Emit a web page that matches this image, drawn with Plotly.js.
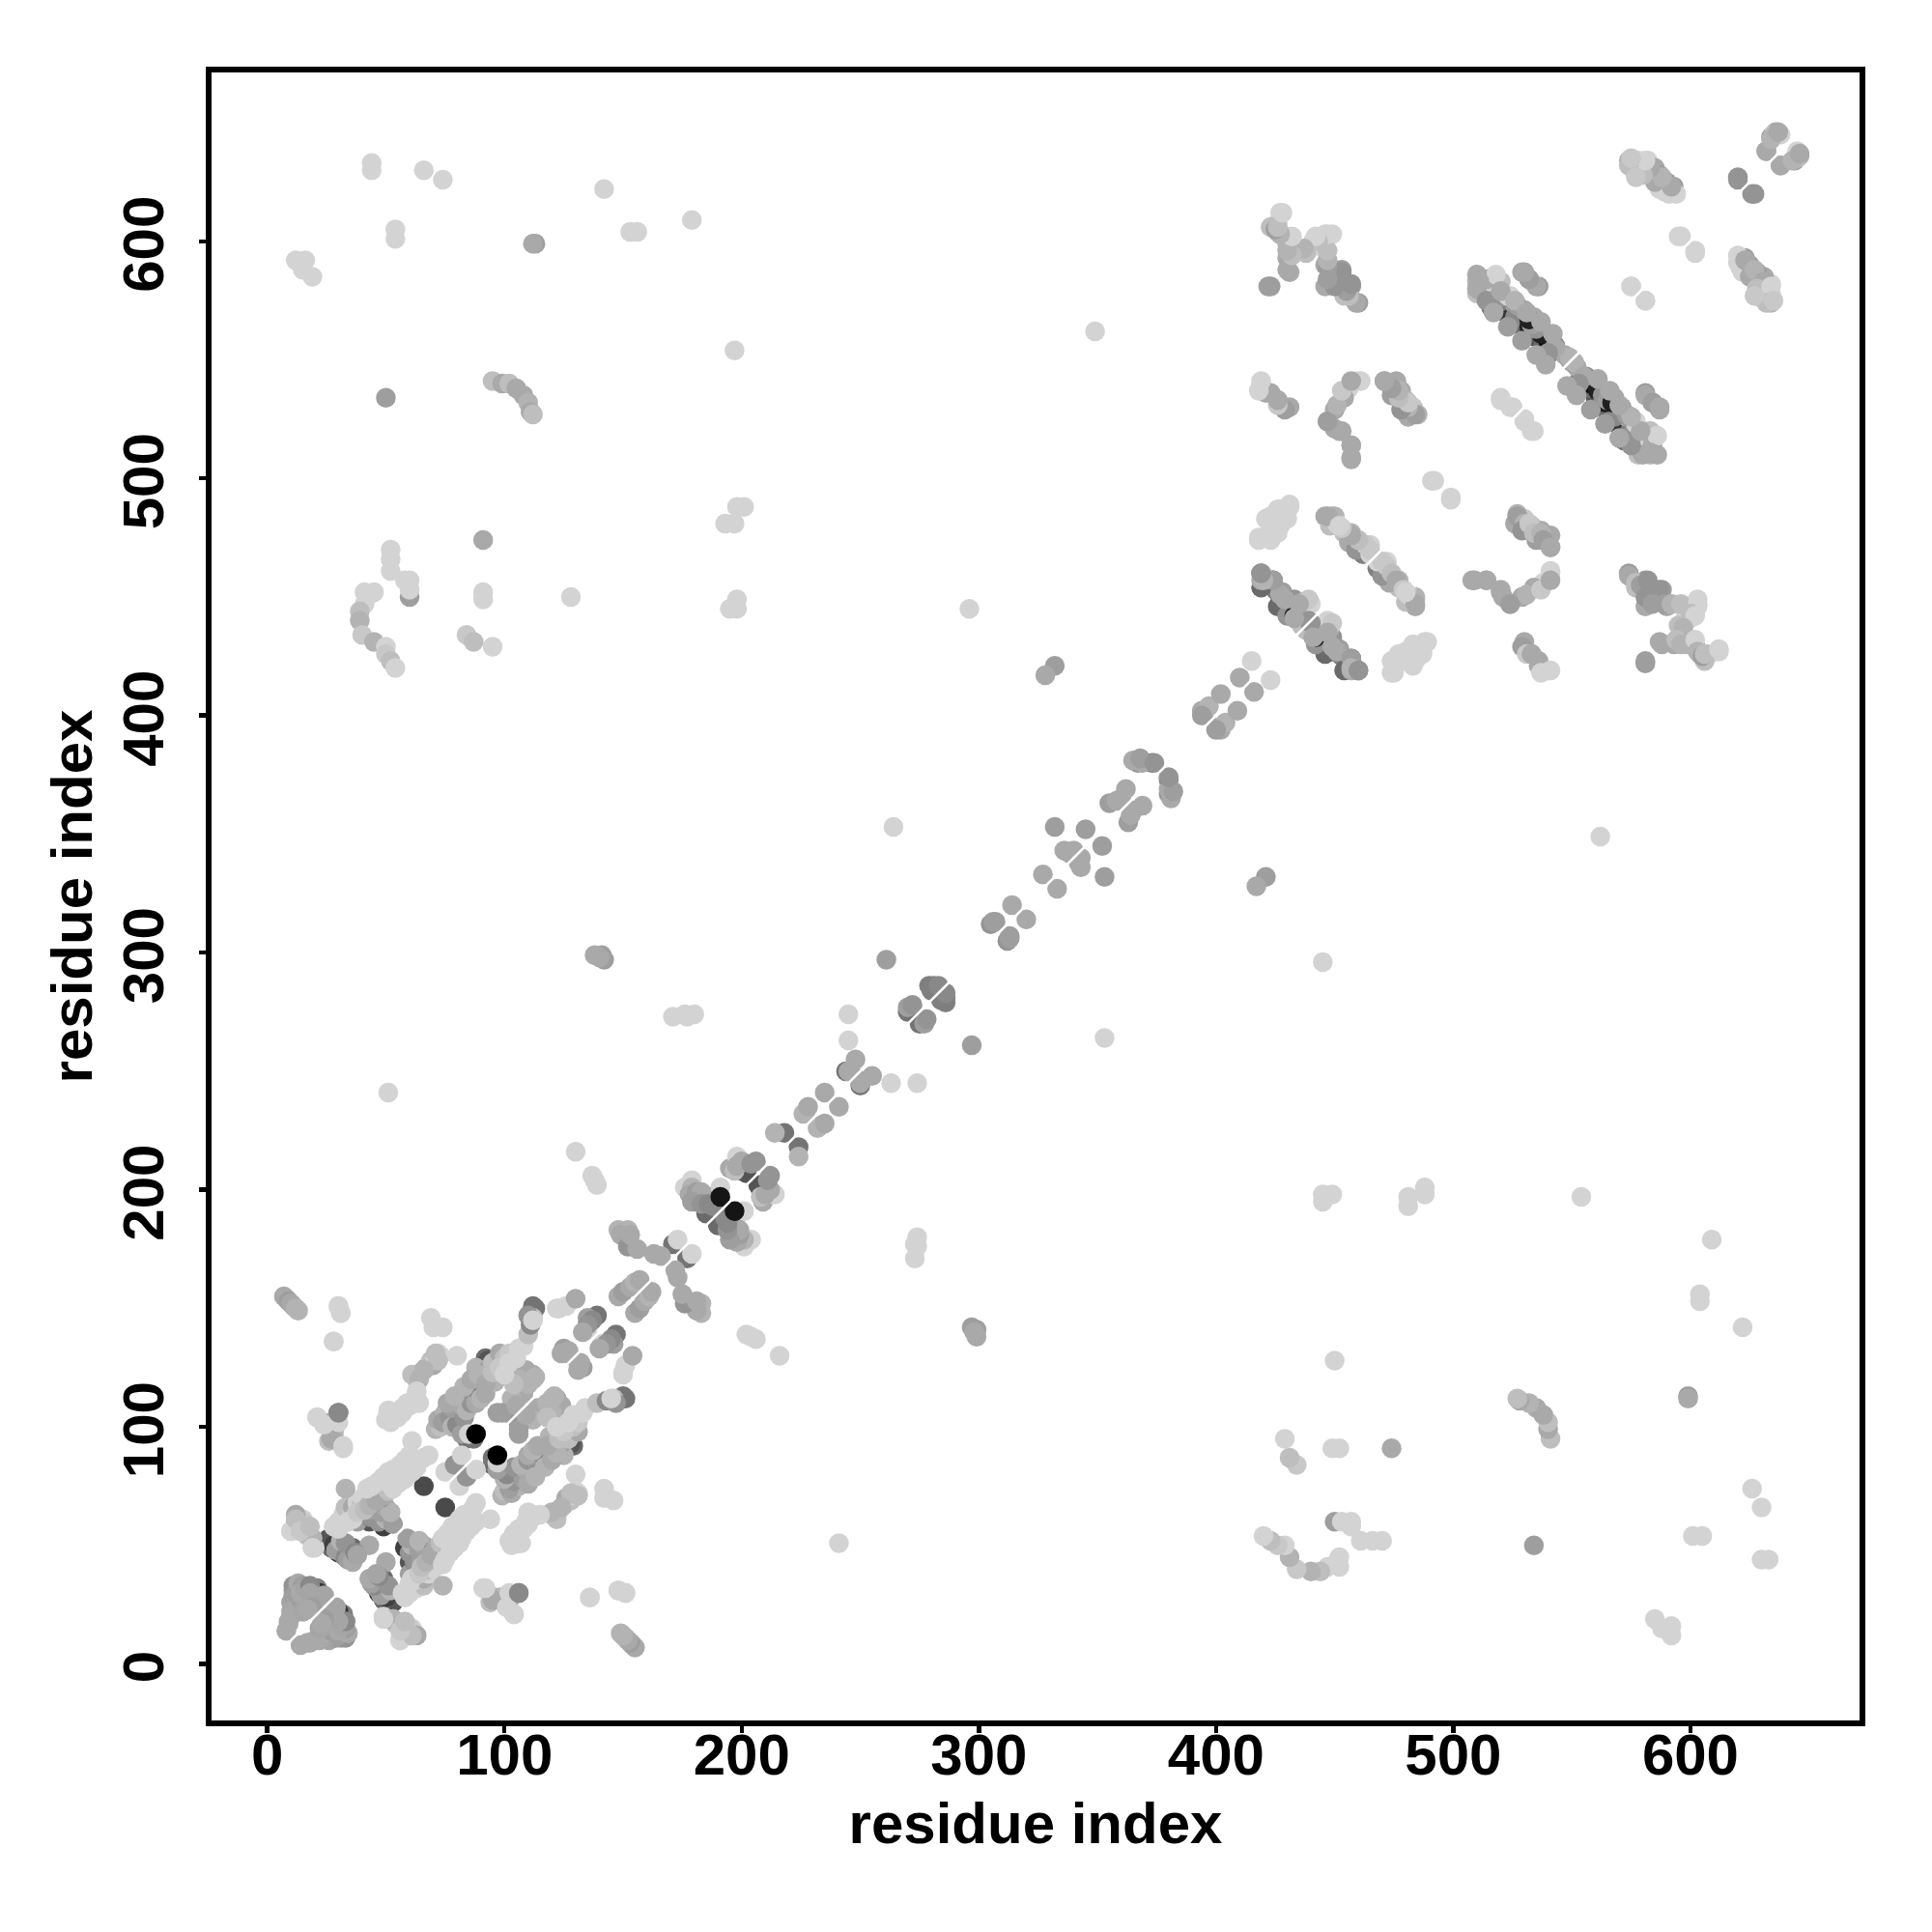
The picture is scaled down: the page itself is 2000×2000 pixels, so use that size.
<!DOCTYPE html>
<html>
<head>
<meta charset="utf-8">
<script src="https://cdn.plot.ly/plotly-3.0.1.min.js"></script>
<style>html,body{margin:0;padding:0;background:#fff}</style>
</head>
<body>
<div id="chart" style="width:2000px;height:2000px"></div>
<script>
// residue contacts: [residue a, residue b, contact score]; the map is symmetric
const nTerminalKnot = [[8,14,.2],[9,17,.2],[9,18,.2],[10,20,.2],[10,22,.2],[10,26,.22],[11,29,.25],[11,31,.25],[11,23,.2],[12,26,.22],[13,24,.2],[14,27,.25],[15,22,.22],[16,26,.22],[18,28,.25],[20,26,.22],[11,33,.3],[12,30,.25],[13,34,.2],[15,33,.25],[14,30,.2],[16,32,.22],[18,33,.35],[18,30,.22],[21,32,.4],[22,30,.75],[21,29,.6],[24,29,.22],[19,24,.25],[17,23,.2]];
const shortHelices = [[43,50,.2],[26,53,.6],[27,49,.5],[28,50,.7],[29,48,.25],[30,47,.75],[32,46,.4],[33,45,.35],[34,44,.25],[36,43,.2],[31,52,.15],[33,51,.3],[36,49,.5],[37,47,.35],[38,46,.22]];
const earlySheetLight = [[28,58,0],[30,57,0],[30,60,0],[32,63,0],[33,66,.1],[36,64,0],[36,66,.2],[38,60,.25],[40,61,.4],[43,62,.35],[45,62,.25],[47,60,.3],[49,58,.7],[50,61,.15],[53,59,.25],[40,65,.25],[42,63,.3],[44,65,.25],[46,66,.3],[48,64,.25],[50,66,.2],[52,64,.15],[38,68,0],[40,68,.2],[40,70,0],[42,71,0],[43,60,.6],[44,72,0],[45,68,.25],[46,74,0],[48,70,.3],[48,75,0],[50,76,0],[52,74,.05],[52,78,0],[54,79,0],[55,76,0],[56,80,0],[58,78,0],[58,82,0],[60,84,0],[62,82,0],[62,85,0],[64,86,0],[66,87,0],[68,88,0],[34,60,0],[36,61,0],[38,64,.05],[41,65,.1],[43,67,.15],[46,69,.2],[49,71,.2],[51,73,.1],[53,74,0],[56,77,0],[59,80,0],[61,81,0],[63,83,0],[42,74,0],[44,75,0],[47,77,0],[49,79,0],[51,81,0],[53,82,0],[56,84,0],[58,86,0],[60,88,0],[33,74,.15],[66,75,.65],[61,94,0],[75,81,0],[79,84,.3],[82,88,0]];
const blackPair = [[84,95,.5],[85,97,0],[87,95,.45],[88,97,1]];
const upperSheet = [[71,99,.15],[73,100,.1],[72,103,.2],[75,106,.15],[74,102,.25],[77,104,.3],[78,100,.15],[80,101,.35],[80,111,.15],[78,108,.25],[82,97,.25],[83,104,.3],[82,109,.2],[84,107,.15],[85,113,.2],[86,116,.15],[86,110,.3],[88,110,.2],[89,115,.35],[90,112,.15],[88,125,.15],[90,120,.25],[92,114,.2],[92,129,.5],[93,128,.6],[93,124,.25],[94,122,.45],[95,127,.1],[96,119,.15],[97,106,.25],[101,106,.3],[98,131,.2],[100,129,.1],[102,131,.05],[104,126,0],[106,133,0],[108,134,0],[110,139,.1],[109,124,.2],[111,143,.35],[112,146,.1],[111,148,.6],[110,147,.3],[112,145,0],[113,150,.45],[108,114,.2],[110,118,.15],[112,122,.2],[113,121,.15],[106,120,.15],[103,112,.15],[99,106,.25],[105,109,.2],[104,118,.1],[76,110,.2],[79,113,.15],[83,117,.15],[86,120,.2],[89,122,.15],[92,118,.2],[95,123,.1],[98,125,.05],[100,122,0],[102,127,0],[105,129,0]];
const upperLoops = [[122,150,0],[126,151,0],[130,154,.2],[135,141,0],[135,146,.25],[137,145,.35],[139,147,.45],[125,133,.25],[124,131,.2],[127,132,.2],[135,143,.3],[133,140,.2],[123,150,0],[112,151,.45],[127,131,.2],[112,120,.15]];
const farEarly = [[7,155,.2],[8,154,.2],[9,153,.25],[10,152,.2],[11,151,.2],[12,150,.15],[13,149,.15],[30,151,0],[31,148,0],[28,136,0],[69,146,0],[70,142,0],[74,142,0],[72,131,0],[80,130,0],[70,126,.2],[67,125,.2],[65,123,.2],[63,120,.2],[61,122,.1],[63,112,0],[60,109,0],[57,106,0],[51,106,.1],[52,102,0],[55,104,0],[21,104,0],[24,101,.1],[30,106,.4],[27,102,.2],[28,98,.2],[26,94,.1],[28,96,.25],[32,91,0],[13,62,.2],[12,60,.15],[15,61,0],[10,56,0],[14,57,.15],[17,54,.1],[19,53,.2],[20,49,0],[73,130,0],[64,120,.15],[69,128,.1],[71,129,0],[71,131,.1],[53,105,0],[57,108,0],[59,110,0],[62,112,0],[63,115,0]];
const midPeriphery = [[72,128,.1],[66,124,.15],[64,110,0],[51,107,0],[50,103,0],[98,28,.15],[95,27,.2],[92,32,0],[102,30,0],[101,24,0],[104,21,0],[106,30,.35],[136,28,0],[148,31,0],[151,30,0],[53,19,.15],[49,19,0],[59,15,0],[56,10,0],[60,15,.05],[63,12,.2],[61,12,.1],[56,14,.05],[58,18,.1]];
const linkerChain = [[148,155,.2],[150,157,.25],[153,159,.2],[155,161,.15],[157,162,.2],[148,183,.15],[150,181,.2],[152,183,.15],[149,181,.2],[152,176,.3],[153,181,.2],[156,175,.2],[163,173,.2],[166,172,.2],[171,177,.45],[173,179,0]];
const dimerCore = [[176,201,0],[179,204,0],[179,201,.15],[178,198,.2],[181,199,.25],[183,199,.2],[179,195,.25],[183,194,.3],[185,190,.5],[186,194,.35],[188,193,.35],[187,197,.5],[191,201,0],[190,194,.4],[191,197,.9],[195,209,.2],[198,214,0],[197,208,.1],[198,210,.2],[200,212,.2],[204,211,.3],[200,208,.55],[202,207,.6],[206,212,.3]];
const chainToLoop = [[214,224,.15],[218,224,.45],[227,233,.15],[226,232,.15],[228,235,.2],[235,241,.2],[244,250,.45],[245,250,.2],[246,250,.2],[248,255,.2],[245,263,0],[245,274,0],[261,297,.25],[264,353,0],[270,277,.25],[272,278,.3],[270,275,.45],[279,286,.4],[281,286,.4],[280,284,.4],[283,286,.35]];
const helicalSpine = [[305,312,.3],[306,313,.25],[307,313,.25],[314,320,.2],[327,333,.2],[332,353,.25],[336,343,.2],[338,342,.2],[340,343,.2],[345,352,.25],[355,363,.25],[358,364,.2],[360,365,.2],[362,369,.2],[366,381,.25],[367,380,.3],[369,380,.2],[373,380,.45],[365,381,.2],[368,382,.25],[374,380,.3],[394,402,.2],[395,401,.2],[397,404,.15],[394,400,.25],[402,409,.2],[410,416,.2],[415,423,0]];
const farLong = [[12,592,0],[16,592,0],[15,588,0],[19,585,0],[44,633,0],[44,630,0],[66,630,0],[74,626,0],[54,605,0],[54,601,0],[113,599,.25],[112,599,.2],[142,622,0],[153,604,0],[156,604,0],[179,609,0],[197,554,0],[50,534,.25],[95,541,.1],[99,540,.2],[102,540,.1],[105,538,.2],[108,535,.2],[110,532,.15],[111,528,.2],[112,527,.1],[349,562,0],[41,452,0],[45,452,0],[43,451,0],[41,447,0],[39,444,.1],[39,440,.15],[40,434,.05],[45,431,.15],[50,429,0],[50,426,.05],[52,423,.1],[54,420,0],[52,470,0],[52,466,0],[52,461,0],[58,457,0],[60,457,0],[60,450,.25],[60,453,0],[91,474,.2],[91,452,0],[91,449,0],[84,434,.05],[87,431,.1],[95,429,0],[128,450,0],[198,488,0],[201,488,0],[193,481,0],[197,481,0],[198,449,0],[198,445,0],[195,445,0],[296,445,0],[332,421,.25],[328,417,.2],[130,216,0],[137,206,0],[139,202,0],[138,204,0],[141,299,.25],[138,299,.2],[142,297,.25],[140,298,.2],[171,273,0],[176,274,0],[180,274,0],[177,273,0],[51,241,0]];
const domainOne = [[427,612,0],[426,608,0],[423,606,.1],[426,604,.15],[429,602,.5],[432,600,.15],[433,595,.1],[430,593,.2],[431,587,.2],[423,581,.25],[446,603,0],[449,603,0],[443,598,0],[441,600,0],[438,595,.1],[446,590,.2],[449,588,.2],[453,588,.25],[449,582,.25],[453,583,.2],[457,581,.25],[454,577,.1],[460,574,.25],[450,585,.3],[446,581,.2]];
const mainBundle = [[510,583,.15],[510,578,.1],[513,583,.2],[516,583,0],[520,583,0],[512,579,.25],[516,575,.2],[518,575,.3],[516,572,.5],[520,572,.4],[522,570,.75],[524,577,0],[526,573,.2],[526,568,.35],[530,567,.35],[528,565,.5],[532,564,.85],[534,568,.2],[536,562,.35],[534,560,.6],[537,562,.2],[540,558,.95],[538,556,.5],[543,556,.35],[541,553,.4],[547,552,.2],[549,550,.25],[551,549,.15],[555,543,.2],[553,540,.3],[558,539,.5],[561,537,.85],[563,535,.3],[565,533,.25],[567,532,.85],[568,527,.5],[571,530,.2],[573,527,.25],[575,525,.3],[574,519,.4],[578,520,.75],[579,516,.2],[577,523,0],[581,517,0],[583,520,.1],[584,514,.2],[586,518,0],[586,510,.2],[580,510,.2],[575,514,.3],[583,511,.2],[520,579,.2],[526,575,.15],[531,570,.2],[537,566,.2],[542,561,.2],[517,570,.2],[523,564,.25],[529,558,.25],[535,552,.2],[539,548,.2]];
const bundleSatellites = [[529,587,.2],[532,584,.25],[536,581,.25],[581,535,.2],[584,532,.25],[587,530,.2],[520,533,0],[525,530,0],[530,524,0],[534,520,0],[595,602,0],[602,596,0],[575,581,0],[581,575,0]];
const cTerminal = [[574,634,.15],[576,633,.05],[578,634,0],[582,634,0],[576,630,0],[578,629,.1],[582,630,.3],[585,631,.2],[587,628,.25],[590,625,.25],[593,623,.25],[589,621,0],[594,620,0],[620,627,.3],[626,620,.3],[636,646,.2],[634,644,.25],[638,645,0],[632,638,.2],[638,632,.2],[645,635,.1],[643,634,.15],[646,637,.2],[620,591,0],[622,587,0],[623,592,.2],[625,585,.2],[627,588,.15],[631,583,.2],[628,580,.1],[633,577,0],[634,581,0],[632,574,.1],[627,577,.05],[635,575,.05]];
const upperArcs = [[419,540,0],[423,536,.2],[426,533,.25],[431,530,.2],[460,541,0],[456,538,0],[454,534,.2],[450,529,.2],[447,524,.2],[452,520,.2],[457,514,.2],[457,508,.2],[471,541,.2],[476,541,.2],[474,535,.25],[478,537,.2],[480,533,.15],[483,530,.05],[485,527,.15],[481,526,.2],[492,499,0],[499,491,0]];
const lightTriangle = [[431,488,0],[426,487,0],[423,484,0],[427,481,0],[423,479,0],[430,483,0],[418,474,0],[423,474,0],[426,477,0]];
const strandPairs = [[446,484,.2],[450,484,.15],[448,480,.1],[454,477,.1],[457,477,.15],[456,473,.2],[459,470,.3],[462,468,.4],[465,472,0],[468,465,0],[470,465,.05],[472,463,.05],[474,460,.1],[476,457,.2],[479,453,.05],[481,451,0],[484,449,.15],[484,447,.2],[480,452,0]];
const darkCore = [[419,460,.4],[421,456,.5],[419,457,.2],[424,457,.6],[426,452,.5],[428,452,.25],[431,448,.7],[430,442,.3],[433,449,.3],[428,447,.4],[433,442,.85],[434,441,.1],[437,448,.15],[440,447,0],[436,438,.1],[440,439,.3],[441,433,.2],[443,431,.6],[445,432,.65],[449,439,.05],[447,435,.2],[446,426,.5],[449,429,.2],[451,427,.2],[453,425,.4],[457,424,.25],[454,419,.5],[457,420,.15],[460,419,.3]];
const lightRidge = [[489,431,0],[485,429,0],[487,427,0],[480,427,0],[475,421,0],[475,418,0],[483,421,0],[478,424,0],[480,423,0]];
const arcPairs = [[509,457,.2],[514,457,.2],[520,453,.2],[521,450,.2],[524,447,.25],[531,451,.15],[537,453,.05],[541,461,0],[541,457,.2],[527,484,.25],[530,481,.15],[529,478,.3],[532,481,.05],[534,477,.1],[537,477,.15],[538,474,.25],[541,471,.2],[529,429,.25],[531,426,.05],[533,426,.2],[536,421,.2],[537,418,0],[541,419,0],[574,459,.2],[577,456,.1],[579,455,.25],[582,457,.3],[581,450,.3],[584,453,.3],[587,453,.3],[589,447,.25],[584,447,.25],[592,447,.15],[596,447,.1],[603,447,0],[600,443,.1],[602,442,0],[597,437,.15],[581,422,.25],[588,430,.2],[594,432,.1],[596,430,.15],[599,430,.15],[602,432,0],[603,427,.15],[605,425,.25],[606,426,.1],[612,428,0]];

const allGroups = [].concat(nTerminalKnot, shortHelices, earlySheetLight, upperSheet, blackPair, upperLoops, farEarly, midPeriphery, linkerChain, dimerCore, chainToLoop, helicalSpine, farLong, domainOne, mainBundle, bundleSatellites, cTerminal, upperArcs, lightTriangle, strandPairs, darkCore, lightRidge, arcPairs);
const tickValues = [0,100,200,300,400,500,600];
const axisLabel = 'residue index';
const diagonal = [-24,672];

// mid-dark contacts lie underneath the lighter ones; the very darkest stay on top
function isUnder(c){ return c[2] >= .4 && c[2] < .85; }
const contacts = allGroups.filter(isUnder).concat(allGroups.filter(function(c){return !isUnder(c);}));

const xs = [], ys = [], colors = [];
function gray(s){ const v = Math.round(211*(1-s)); return 'rgb('+v+','+v+','+v+')'; }
contacts.forEach(function(c){
  xs.push(c[0]); ys.push(c[1]); colors.push(gray(c[2]));
  xs.push(c[1]); ys.push(c[0]); colors.push(gray(c[2]));
});

const axisBase = {
  tickmode:'array', tickvals:tickValues, ticktext:tickValues.map(String),
  ticks:'outside', ticklen:7, tickwidth:4.5, tickcolor:'#000',
  showline:true, linecolor:'#000', linewidth:6, mirror:true,
  showgrid:false, zeroline:false, automargin:false,
  tickfont:{family:'Liberation Sans, Arial, sans-serif', size:60, color:'#000', weight:700}
};
const titleFont = {family:'Liberation Sans, Arial, sans-serif', size:60, color:'#000', weight:700};

Plotly.newPlot('chart',[
  {type:'scatter',mode:'markers',x:xs,y:ys,marker:{size:20.5,color:colors,line:{width:0}},hoverinfo:'x+y',showlegend:false},
  {type:'scatter',mode:'lines',x:diagonal,y:diagonal,line:{color:'#fff',width:2.5},hoverinfo:'skip',showlegend:false}
],{
  width:2000,height:2000,
  margin:{l:219,r:74.5,t:74.5,b:218.5,pad:0},
  paper_bgcolor:'#fff',plot_bgcolor:'#fff',
  xaxis:Object.assign({},axisBase,{range:[-23.5,671.3],tickangle:0,ticklabelstandoff:-29,title:{text:axisLabel,font:titleFont,standoff:19}}),
  yaxis:Object.assign({},axisBase,{range:[-23.8,671.2],tickangle:-90,ticklabelstandoff:13,ticklabelshift:12,title:{text:axisLabel,font:titleFont,standoff:2}})
},{displayModeBar:false,staticPlot:true});
</script>
</body>
</html>
